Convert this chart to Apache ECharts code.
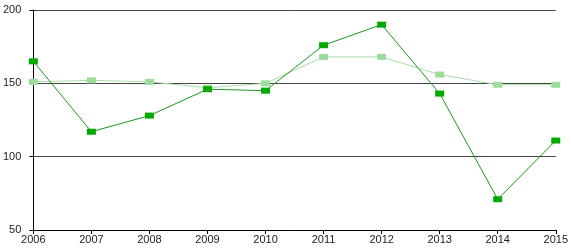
<!DOCTYPE html>
<html>
<head>
<meta charset="utf-8">
<script src="https://cdn.jsdelivr.net/npm/echarts@6/dist/echarts.min.js"></script>
<style>
html,body{margin:0;padding:0;background:#fff;}
#chart{width:571px;height:250px;}
</style>
</head>
<body>
<div id="chart"></div>
<script>
var years = ['2006','2007','2008','2009','2010','2011','2012','2013','2014','2015'];
var darkSeries = [165, 117, 128, 146, 145, 176, 190, 143, 71, 111];
var lightSeries = [151, 152, 151, 147, 150, 168, 168, 156, 149, 149];

var option = {
    animation: false,
    grid: {left: 30, right: 10, top: 10, bottom: 20},
    xAxis: {
        type: 'category',
        data: years,
        boundaryGap: false,
        axisLine: {lineStyle: {color: '#000', width: 1}},
        axisTick: {show: true, length: 4, lineStyle: {color: '#000'}},
        axisLabel: {color: '#222', fontSize: 11, fontFamily: 'Liberation Sans', margin: 4},
        splitLine: {show: false}
    },
    yAxis: {
        type: 'value',
        min: 50,
        max: 200,
        interval: 50,
        axisLine: {show: true, lineStyle: {color: '#000', width: 1}},
        axisTick: {show: true, length: 4, lineStyle: {color: '#000'}},
        axisLabel: {color: '#222', fontSize: 11, fontFamily: 'Liberation Sans', margin: 12},
        splitLine: {show: true, lineStyle: {color: '#444', width: 1}}
    },
    series: [
        {
            name: 'light',
            type: 'line',
            data: lightSeries,
            symbol: 'rect',
            symbolSize: [9, 6],
            showAllSymbol: true,
            itemStyle: {color: '#9edc9e'},
            lineStyle: {color: '#a8dca8', width: 1}
        },
        {
            name: 'dark',
            type: 'line',
            data: darkSeries,
            symbol: 'rect',
            symbolSize: [9, 6],
            showAllSymbol: true,
            itemStyle: {color: '#00aa00'},
            lineStyle: {color: '#1a9a1a', width: 1}
        }
    ]
};
var chart = echarts.init(document.getElementById('chart'));
chart.setOption(option);
</script>
</body>
</html>
